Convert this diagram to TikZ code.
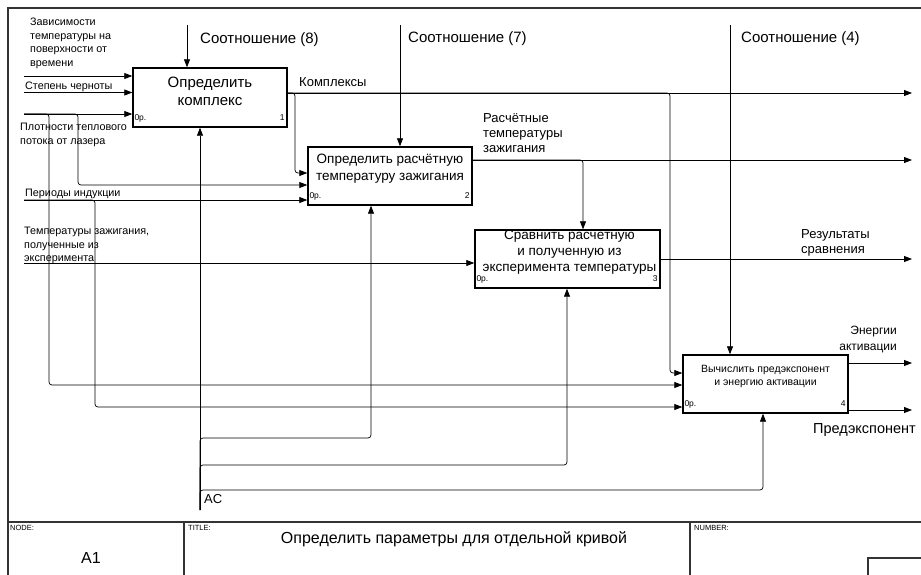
\documentclass[tikz,border=0pt]{standalone}
\usepackage{fontspec}
\setmainfont{Liberation Sans}
\usetikzlibrary{arrows.meta}
\tikzset{
  fboxst/.style={draw, line width=1.4pt, inner sep=0pt},
  framest/.style={draw=black!80, line width=1.1pt},
  arr/.style={line width=0.8pt, -{Triangle[length=8pt,width=6pt]}},
  brarr/.style={line width=0.7pt, rounded corners=3pt, -{Triangle[length=8pt,width=6pt]}},
  smalltxt/.style={font=\fontsize{10.8}{13.5}\selectfont, align=left, inner sep=0pt},
  midtxt/.style={font=\fontsize{13}{15}\selectfont, align=left, inner sep=0pt},
  bigtxt/.style={font=\fontsize{15}{18}\selectfont, inner sep=0pt},
  cornertxt/.style={font=\fontsize{8.5}{9}\selectfont, inner sep=0pt},
  tbtxt/.style={font=\fontsize{7.5}{9}\selectfont, inner sep=0pt},
}
\begin{document}
\begin{tikzpicture}[x=1pt,y=-1pt]
\useasboundingbox (0,0) rectangle (921,574);
\clip (0,0) rectangle (921,574);
\fill[white] (0,0) rectangle (921,574);
% frame and title block
\draw[framest] (8,580) -- (8,8) -- (930,8);
\draw[framest] (8,522) -- (930,522);
\draw[framest] (184,522) -- (184,580);
\draw[framest] (690,522) -- (690,580);
\draw[framest] (868,580) -- (868,558) -- (930,558);
\node[tbtxt, anchor=base west] (nodelbl) at (10,530) {NODE:};
\node[tbtxt, anchor=base west] (titlelbl) at (188,530) {TITLE:};
\node[tbtxt, anchor=base west] (numlbl) at (694,530) {NUMBER:};
\node[font=\fontsize{16}{18}\selectfont, inner sep=0pt, anchor=base] (a1) at (91,563) {A1};
\node[font=\fontsize{16}{18}\selectfont, inner sep=0pt, anchor=base] (title) at (454,543) {Определить параметры для отдельной кривой};

% boxes
\node[fboxst, minimum width=154pt, minimum height=59pt] (b1) at (210,97.5) {};
\node[fboxst, minimum width=164pt, minimum height=58pt] (b2) at (390,176) {};
\node[fboxst, minimum width=185pt, minimum height=58pt] (b3) at (567.5,259) {};
\node[fboxst, minimum width=165pt, minimum height=58pt] (b4) at (765.5,384) {};

\node[bigtxt, align=center, anchor=north] (t1) at ([yshift=-10pt]b1.north) {Определить\\комплекс};
\node[font=\fontsize{13.5}{17}\selectfont, inner sep=0pt, align=center, anchor=north] (t2) at ([yshift=-8pt]b2.north) {Определить расчётную\\температуру зажигания};
\node[font=\fontsize{13.5}{16}\selectfont, inner sep=0pt, align=center, anchor=north] (t3) at ([xshift=2pt,yshift=-0.5pt]b3.north) {Сравнить расчётную\\и полученную из\\эксперимента температуры};
\node[font=\fontsize{10.5}{13}\selectfont, inner sep=0pt, align=center, anchor=north] (t4) at ([yshift=-11pt]b4.north) {Вычислить предэкспонент\\и энергию активации};

\foreach \b/\n in {b1/1,b2/2,b3/3,b4/4}{
  \node[cornertxt, anchor=base west] at ([xshift=2pt,yshift=7pt]\b.south west) {0р.};
  \node[cornertxt, anchor=base east] at ([xshift=-3pt,yshift=7pt]\b.south east) {\n};
}

% inputs
\coordinate (i1) at (24,76);
\coordinate (i2) at (24,92.5);
\coordinate (i3) at (24,114);
\coordinate (i4) at (24,200);
\coordinate (i5) at (24,263);
\draw[arr] (i1) -- (i1 -| b1.west);
\draw[arr] (i2) -- (i2 -| b1.west);
\draw[arr] (i3) -- (i3 -| b1.west);
\draw[brarr] (i3) -| (49,385) -- (b4.west |- 0,385);
\draw[brarr] (i3) -| (78,185) -- (b2.west |- 0,185);
\draw[arr] (i4) -- (i4 -| b2.west);
\draw[brarr] (i4) -| (95,407) -- (b4.west |- 0,407);
\draw[arr] (i5) -- (i5 -| b3.west);

\node[smalltxt, anchor=north west] (l1) at (30,18) {Зависимости\\температуры на\\поверхности от\\времени};
\node[smalltxt, anchor=base west] (l2) at (25,89) {Степень черноты};
\node[smalltxt, anchor=north west] (l3) at (20,123) {Плотности теплового\\потока от лазера};
\node[smalltxt, anchor=base west] (l4) at (25,196) {Периоды индукции};
\node[smalltxt, anchor=north west] (l5) at (24,227) {Температуры зажигания,\\полученные из\\эксперимента};

% controls
\coordinate (c1) at (187,25);
\coordinate (c2) at (400,25);
\coordinate (c3) at (730,25);
\draw[arr] (c1) -- (c1 |- b1.north);
\draw[arr] (c2) -- (c2 |- b2.north);
\draw[arr] (c3) -- (c3 |- b4.north);
\node[bigtxt, anchor=base west] (lc1) at (200,43.5) {Соотношение (8)};
\node[bigtxt, anchor=base west] (lc2) at (408,42) {Соотношение (7)};
\node[bigtxt, anchor=base west] (lc3) at (741,42.5) {Соотношение (4)};

% outputs
\coordinate (o1) at (912,93);
\coordinate (o2) at (912,160);
\coordinate (o3) at (912,259);
\coordinate (o4) at (912,363);
\coordinate (o5) at (912,410);
\draw[arr] (o1 -| b1.east) -- (o1);
\draw[brarr] (o1 -| b1.east) -| (295,173) -- (b2.west |- 0,173);
\draw[brarr] (o1 -| b1.east) -| (670,373) -- (b4.west |- 0,373);
\draw[arr] (o2 -| b2.east) -- (o2);
\draw[brarr] (o2 -| b2.east) -| (583,0 |- b3.north);
\draw[arr] (o3 -| b3.east) -- (o3);
\draw[arr] (o4 -| b4.east) -- (o4);
\draw[arr] (o5 -| b4.east) -- (o5);

\node[midtxt, anchor=base west] (lo1) at (299,86) {Комплексы};
\node[midtxt, anchor=north west] (lo2) at (483,113) {Расчётные\\температуры\\зажигания};
\node[midtxt, anchor=north west] (lo3) at (801,229) {Результаты\\сравнения};
\node[font=\fontsize{12}{16}\selectfont, inner sep=0pt, align=right, anchor=north east] (lo4) at (897,326) {Энергии\\активации};
\node[font=\fontsize{14.5}{16}\selectfont, inner sep=0pt, anchor=base west] (lo5) at (813,433) {Предэкспонент};

% mechanism
\coordinate (m0) at (200,510);
\draw[arr, line width=0.7pt] (m0) -- (m0 |- b1.south);
\draw[brarr] (m0) |- (371,438) -- (371,0 |- b2.south);
\draw[brarr] (m0) |- (567,465) -- (567,0 |- b3.south);
\draw[brarr] (m0) |- (763,490) -- (763,0 |- b4.south);
\node[midtxt, anchor=base west] (lm) at (204,503) {AC};
\end{tikzpicture}
\end{document}
